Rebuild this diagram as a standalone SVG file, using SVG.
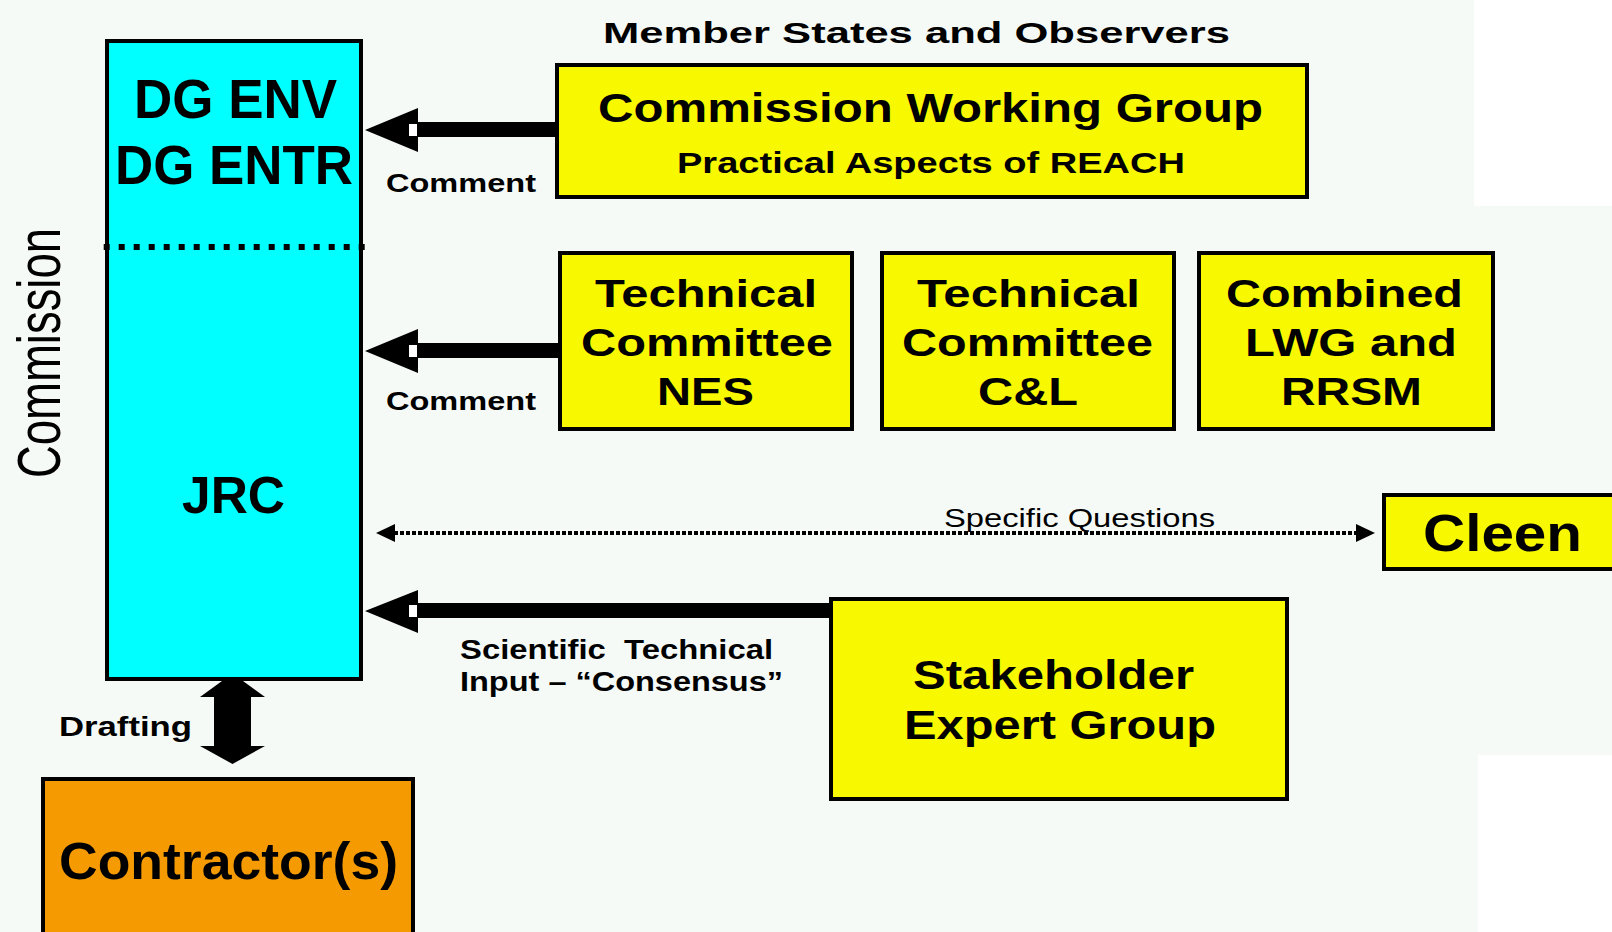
<svg xmlns="http://www.w3.org/2000/svg" width="1612" height="932" viewBox="0 0 1612 932">
<style>
text{font-family:"Liberation Sans",Arial,sans-serif;fill:#000;}
.b{font-weight:bold;}
.box{stroke:#000;stroke-width:4;}
.yel{fill:#f8f800;}
.notch{fill:#ffffff;}
</style>
<rect x="0" y="0" width="1612" height="932" fill="#f5faf7"/>
<rect x="1474" y="0" width="138" height="206" fill="#ffffff"/>
<rect x="1478" y="755" width="134" height="177" fill="#ffffff"/>

<g id="commission-label">
<text transform="translate(60,353) scale(1.36,1) rotate(-90)" font-size="45" text-anchor="middle" textLength="250" lengthAdjust="spacingAndGlyphs" fill="#111">Commission</text>
</g>

<g id="header">
<text class="b" x="603" y="43" font-size="30" textLength="627" lengthAdjust="spacingAndGlyphs">Member States and Observers</text>
</g>

<g id="commission-box">
<rect class="box" x="107" y="41" width="254" height="638" fill="#00ffff"/>
<line x1="100" y1="247" x2="366" y2="247" stroke="#000" stroke-width="6" stroke-dasharray="6 9" stroke-dashoffset="11.3"/>
<text class="b" x="134" y="118" font-size="55" textLength="203" lengthAdjust="spacingAndGlyphs">DG ENV</text>
<text class="b" x="115" y="184" font-size="55" textLength="238" lengthAdjust="spacingAndGlyphs">DG ENTR</text>
<text class="b" x="182" y="513" font-size="52" textLength="103" lengthAdjust="spacingAndGlyphs">JRC</text>
</g>

<g id="cwg">
<rect class="box yel" x="557" y="65" width="750" height="132"/>
<text class="b" x="598" y="122" font-size="40" textLength="665" lengthAdjust="spacingAndGlyphs">Commission Working Group</text>
<text class="b" x="677" y="173" font-size="30" textLength="508" lengthAdjust="spacingAndGlyphs">Practical Aspects of REACH</text>
</g>

<g id="tc-nes">
<rect class="box yel" x="560" y="253" width="292" height="176"/>
<text class="b" x="595" y="307" font-size="39" textLength="222" lengthAdjust="spacingAndGlyphs">Technical</text>
<text class="b" x="581" y="356" font-size="39" textLength="252" lengthAdjust="spacingAndGlyphs">Committee</text>
<text class="b" x="657" y="405" font-size="39" textLength="97" lengthAdjust="spacingAndGlyphs">NES</text>
</g>

<g id="tc-cl">
<rect class="box yel" x="882" y="253" width="292" height="176"/>
<text class="b" x="917" y="307" font-size="39" textLength="223" lengthAdjust="spacingAndGlyphs">Technical</text>
<text class="b" x="902" y="356" font-size="39" textLength="251" lengthAdjust="spacingAndGlyphs">Committee</text>
<text class="b" x="978" y="405" font-size="39" textLength="100" lengthAdjust="spacingAndGlyphs">C&amp;L</text>
</g>

<g id="combined">
<rect class="box yel" x="1199" y="253" width="294" height="176"/>
<text class="b" x="1226" y="307" font-size="39" textLength="237" lengthAdjust="spacingAndGlyphs">Combined</text>
<text class="b" x="1245" y="356" font-size="39" textLength="212" lengthAdjust="spacingAndGlyphs">LWG and</text>
<text class="b" x="1281" y="405" font-size="39" textLength="141" lengthAdjust="spacingAndGlyphs">RRSM</text>
</g>

<g id="cleen">
<rect class="box yel" x="1384" y="495" width="240" height="74"/>
<text class="b" x="1423" y="551" font-size="52" textLength="159" lengthAdjust="spacingAndGlyphs">Cleen</text>
</g>

<g id="stakeholder">
<rect class="box yel" x="831" y="599" width="456" height="200"/>
<text class="b" x="913" y="689" font-size="40" textLength="281" lengthAdjust="spacingAndGlyphs">Stakeholder</text>
<text class="b" x="904" y="739" font-size="40" textLength="312" lengthAdjust="spacingAndGlyphs">Expert Group</text>
</g>

<g id="contractor">
<rect class="box" x="43" y="779" width="370" height="200" fill="#f59a00"/>
<text class="b" x="59" y="879" font-size="52" textLength="339" lengthAdjust="spacingAndGlyphs">Contractor(s)</text>
</g>

<g id="connectors">
<polygon points="365,130 418,108 418,122 557,122 557,137 418,137 418,152" fill="#000"/>
<rect class="notch" x="409" y="124" width="8" height="12"/>
<text class="b" x="386" y="192" font-size="26" textLength="150" lengthAdjust="spacingAndGlyphs">Comment</text>

<polygon points="365,351 418,329 418,343 560,343 560,358 418,358 418,373" fill="#000"/>
<rect class="notch" x="409" y="345" width="8" height="12"/>
<text class="b" x="386" y="410" font-size="26" textLength="150" lengthAdjust="spacingAndGlyphs">Comment</text>

<line x1="394" y1="533" x2="1357" y2="533" stroke="#000" stroke-width="4" stroke-dasharray="4 2"/>
<polygon points="376,533 395,524 395,542" fill="#000"/>
<polygon points="1375,533 1356,524 1356,542" fill="#000"/>
<text x="944" y="527" font-size="25" textLength="271" lengthAdjust="spacingAndGlyphs" fill="#333">Specific Questions</text>

<polygon points="365,611 418,590 418,603 831,603 831,618 418,618 418,633" fill="#000"/>
<rect class="notch" x="409" y="605" width="8" height="12"/>
<text class="b" x="460" y="659" font-size="28" textLength="313" lengthAdjust="spacingAndGlyphs" xml:space="preserve">Scientific  Technical</text>
<text class="b" x="460" y="691" font-size="28" textLength="323" lengthAdjust="spacingAndGlyphs">Input – “Consensus”</text>

<polygon points="222,681 243,681 265,697 251,697 251,746 265,746 232.5,764 200,746 214,746 214,697 200,697" fill="#000"/>
<text class="b" x="59" y="736" font-size="28" textLength="133" lengthAdjust="spacingAndGlyphs">Drafting</text>
</g>
</svg>
